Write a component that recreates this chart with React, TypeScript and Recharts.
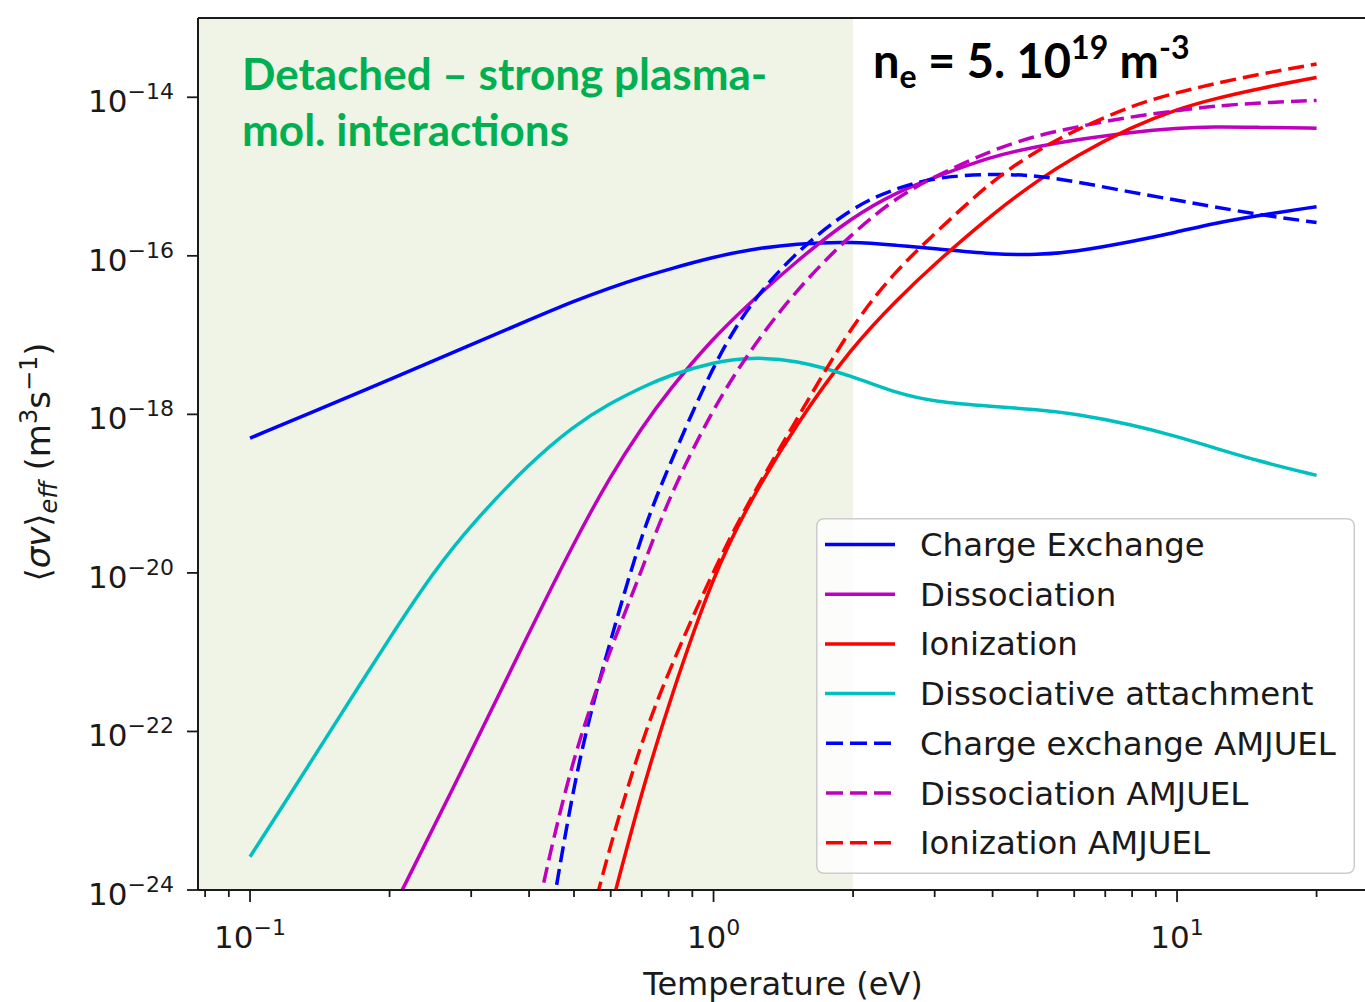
import React from 'react';
import { LineChart, Line, XAxis, YAxis, ReferenceArea, ReferenceLine, Legend } from 'recharts';

// ---- axis ranges & ticks ----
const X_MIN = 0.07722;
const X_MAX = 25.44;
const Y_MIN = 1e-24;
const Y_MAX = 1e-13;
const X_MAJOR = [0.1, 1, 10];
const X_MINOR = [0.08, 0.09, 0.2, 0.3, 0.4, 0.5, 0.6, 0.7, 0.8, 0.9, 2, 3, 4, 5, 6, 7, 8, 9, 20];
const Y_TICKS = [1e-24, 1e-22, 1e-20, 1e-18, 1e-16, 1e-14];
const DETACHED_MAX_T = 2;

// ---- series (T in eV, rate coefficient in m^3/s) ----
const CX_T = [0.1, 0.15, 0.2, 0.3, 0.4, 0.5, 0.6, 0.7, 0.8, 1.0, 1.2, 1.5, 2, 2.5, 3, 4, 5, 6, 8, 10, 12, 15, 20];
const CX_V = [5.01e-19, 1.349e-18, 2.754e-18, 7.59e-18, 1.549e-17, 2.69e-17, 3.98e-17, 5.37e-17, 6.76e-17, 9.66e-17, 1.202e-16, 1.429e-16, 1.514e-16, 1.349e-16, 1.23e-16, 1.047e-16, 1.023e-16, 1.122e-16, 1.514e-16, 1.995e-16, 2.57e-16, 3.236e-16, 4.17e-16];

const DIS_T = [0.2, 0.3, 0.4, 0.5, 0.6, 0.7, 0.8, 1.0, 1.2, 1.5, 2, 2.5, 3, 4, 5, 6, 8, 10, 12, 15, 20];
const DIS_V = [4.79e-25, 5.5e-23, 1.778e-21, 2.43e-20, 1.698e-19, 6.76e-19, 1.995e-18, 9.33e-18, 2.57e-17, 8.32e-17, 3.162e-16, 6.46e-16, 9.77e-16, 1.82e-15, 2.4e-15, 2.88e-15, 3.63e-15, 4.07e-15, 4.27e-15, 4.17e-15, 4.07e-15];

const ION_T = [0.6, 0.7, 0.8, 1.0, 1.2, 1.5, 2, 2.5, 3, 4, 5, 6, 8, 10, 12, 15, 20];
const ION_V = [5.75e-25, 1.738e-23, 2.239e-22, 9.77e-21, 8.13e-20, 7.24e-19, 7.41e-18, 2.88e-17, 7.94e-17, 3.39e-16, 8.91e-16, 1.778e-15, 4.27e-15, 7.08e-15, 9.55e-15, 1.288e-14, 1.778e-14];

const DA_T = [0.1, 0.12, 0.15, 0.2, 0.25, 0.3, 0.4, 0.5, 0.6, 0.7, 0.8, 1.0, 1.2, 1.5, 2, 2.5, 3, 4, 5, 6, 8, 10, 12, 15, 20];
const DA_V = [2.63e-24, 1.371e-23, 1.072e-22, 1.514e-21, 1.072e-20, 4.07e-20, 2.4e-19, 7.24e-19, 1.396e-18, 2.19e-18, 3.09e-18, 4.57e-18, 5.25e-18, 4.9e-18, 3.02e-18, 1.82e-18, 1.445e-18, 1.259e-18, 1.148e-18, 1.023e-18, 7.41e-19, 5.25e-19, 3.8e-19, 2.57e-19, 1.698e-19];

const CXA_T = [0.45, 0.5, 0.55, 0.6, 0.7, 0.8, 1.0, 1.2, 1.5, 2, 2.5, 3, 4, 5, 6, 8, 10, 12, 15, 20];
const CXA_V = [6.03e-25, 2.239e-23, 2.344e-22, 1.413e-21, 3.236e-20, 2.188e-19, 4.365e-18, 2.57e-17, 1.096e-16, 4.27e-16, 7.24e-16, 9.77e-16, 1.096e-15, 1.023e-15, 8.71e-16, 6.31e-16, 5.01e-16, 4.17e-16, 3.31e-16, 2.63e-16];

const DISA_T = [0.42, 0.45, 0.5, 0.55, 0.6, 0.7, 0.8, 1.0, 1.2, 1.5, 2, 2.5, 3, 4, 5, 6, 8, 10, 12, 15, 20];
const DISA_V = [6.46e-25, 4.17e-24, 4.79e-23, 2.57e-22, 1.122e-21, 1.072e-20, 8.91e-20, 1.23e-18, 6.46e-18, 3.63e-17, 1.995e-16, 5.62e-16, 1.0e-15, 2.188e-15, 3.31e-15, 4.17e-15, 5.75e-15, 6.76e-15, 7.76e-15, 8.51e-15, 9.12e-15];

const IONA_T = [0.56, 0.6, 0.7, 0.8, 1.0, 1.2, 1.5, 2, 2.5, 3, 4, 5, 6, 8, 10, 12, 15, 20];
const IONA_V = [8.13e-25, 3.8e-24, 7.76e-23, 5.75e-22, 1.096e-20, 8.71e-20, 7.94e-19, 1.445e-17, 6.92e-17, 1.905e-16, 9.12e-16, 2.138e-15, 3.8e-15, 7.94e-15, 1.148e-14, 1.479e-14, 1.95e-14, 2.63e-14];

const SERIES_NAMES = [
  'Charge Exchange',
  'Dissociation',
  'Ionization',
  'Dissociative attachment',
  'Charge exchange AMJUEL',
  'Dissociation AMJUEL',
  'Ionization AMJUEL',
];

const BLUE = '#0000FF';
const MAGENTA = '#BF00BF';
const RED = '#FF0000';
const CYAN = '#00BFBF';

const toData = (ts: number[], vs: number[]) => ts.map((t, i) => ({ T: t, v: vs[i] }));

const SERIES = [
  { name: SERIES_NAMES[0], color: BLUE, dashed: false, data: toData(CX_T, CX_V) },
  { name: SERIES_NAMES[1], color: MAGENTA, dashed: false, data: toData(DIS_T, DIS_V) },
  { name: SERIES_NAMES[2], color: RED, dashed: false, data: toData(ION_T, ION_V) },
  { name: SERIES_NAMES[3], color: CYAN, dashed: false, data: toData(DA_T, DA_V) },
  { name: SERIES_NAMES[4], color: BLUE, dashed: true, data: toData(CXA_T, CXA_V) },
  { name: SERIES_NAMES[5], color: MAGENTA, dashed: true, data: toData(DISA_T, DISA_V) },
  { name: SERIES_NAMES[6], color: RED, dashed: true, data: toData(IONA_T, IONA_V) },
];

const AXIS_COLOR = '#1a1a1a';
const FONT = '"DejaVu Sans", sans-serif';
const DASH = '16 7';
const LW = 3.5;

const expLabel = (e: number) => (e < 0 ? '\u2212' + String(-e) : String(e));

const XTick = (props: any) => {
  const { x, y, payload } = props;
  const lv = Math.log10(payload.value);
  const e = Math.round(lv);
  const major = Math.abs(lv - e) < 1e-6;
  return (
    <g>
      <line x1={x} x2={x} y1={y} y2={y + (major ? 12 : 7)} stroke={AXIS_COLOR} strokeWidth={1.8} />
      {major && (
        <text x={x} y={y + 58} textAnchor="middle" fontFamily={FONT} fontSize={31} fill={AXIS_COLOR}>
          10<tspan fontSize={22} dy={-13}>{expLabel(e)}</tspan>
        </text>
      )}
    </g>
  );
};

const YTick = (props: any) => {
  const { x, y, payload } = props;
  const e = Math.round(Math.log10(payload.value));
  return (
    <g>
      <line x1={x - 11} x2={x} y1={y} y2={y} stroke={AXIS_COLOR} strokeWidth={1.8} />
      <text x={x - 24} y={y + 15} textAnchor="end" fontFamily={FONT} fontSize={31} fill={AXIS_COLOR}>
        10<tspan fontSize={22} dy={-13}>{expLabel(e)}</tspan>
      </text>
    </g>
  );
};

const LEG_W = 539;
const LEG_H = 356;
const LEG_ROW0 = 26.5;
const LEG_STEP = 49.7;

const LegendBox = () => (
  <svg width={LEG_W} height={LEG_H} style={{ display: 'block', overflow: 'visible' }}>
    <rect x={0.75} y={0.75} width={LEG_W - 1.5} height={LEG_H - 1.5} rx={7} ry={7}
      fill="#ffffff" fillOpacity={0.8} stroke="#cccccc" strokeWidth={1.5} />
    {SERIES.map((s, i) => {
      const cy = LEG_ROW0 + i * LEG_STEP;
      return (
        <g key={s.name}>
          <line x1={s.dashed ? 10 : 9} x2={s.dashed ? 78 : 79} y1={cy} y2={cy} stroke={s.color}
            strokeWidth={LW} strokeDasharray={s.dashed ? '17 7' : undefined} />
          <text x={104} y={cy + 11.5} fontFamily={FONT} fontSize={32.4} fill={AXIS_COLOR}>{s.name}</text>
        </g>
      );
    })}
  </svg>
);

export default function App() {
  return (
    <div style={{ position: 'absolute', left: 0, top: 0, width: 1365, height: 1002, background: '#ffffff', overflow: 'hidden' }}>
      <LineChart width={1365} height={1002} margin={{ top: 18, right: 0, left: 0, bottom: 0 }}>
        <XAxis
          xAxisId={0}
          type="number"
          dataKey="T"
          scale="log"
          domain={[X_MIN, X_MAX]}
          allowDataOverflow
          ticks={[...X_MAJOR, ...X_MINOR].sort((a, b) => a - b)}
          interval={0}
          height={112}
          tickSize={0}
          tickMargin={0}
          tickLine={false}
          axisLine={{ stroke: AXIS_COLOR, strokeWidth: 2 }}
          tick={<XTick />}
        />
        <YAxis
          yAxisId={0}
          type="number"
          scale="log"
          domain={[Y_MIN, Y_MAX]}
          allowDataOverflow
          ticks={Y_TICKS}
          interval={0}
          width={198}
          tickSize={0}
          tickMargin={0}
          tickLine={false}
          axisLine={{ stroke: AXIS_COLOR, strokeWidth: 2 }}
          tick={<YTick />}
        />
        <ReferenceArea x1={X_MIN} x2={DETACHED_MAX_T} y1={Y_MIN} y2={Y_MAX} fill="#F0F4E6" fillOpacity={1} stroke="none" ifOverflow="hidden" />
        <ReferenceLine y={Y_MAX} stroke={AXIS_COLOR} strokeWidth={2} />
        {SERIES.map((s) => (
          <Line
            key={s.name}
            data={s.data}
            dataKey="v"
            name={s.name}
            type="basis"
            stroke={s.color}
            strokeWidth={LW}
            strokeDasharray={s.dashed ? DASH : undefined}
            dot={false}
            activeDot={false}
            isAnimationActive={false}
          />
        ))}
        <Legend
          layout="horizontal"
          verticalAlign="middle"
          align="center"
          content={() => <LegendBox />}
          wrapperStyle={{ left: 816, top: 518, width: LEG_W, height: LEG_H }}
        />
      </LineChart>
      <svg width={1365} height={1002} style={{ position: 'absolute', left: 0, top: 0, pointerEvents: 'none' }}>
        <text x={242} y={90} fontFamily="Lato, sans-serif" fontWeight={700} fontSize={44} fill="#00B050">Detached – strong plasma-</text>
        <text x={242} y={146} fontFamily="Lato, sans-serif" fontWeight={700} fontSize={44} fill="#00B050">mol. interactions</text>
        <text x={873} y={78} fontFamily="Lato, sans-serif" fontWeight={700} fontSize={47} fill="#000000">
          n<tspan fontSize={32} dy={10}>e</tspan>
          <tspan dy={-10}> = 5. 10</tspan>
          <tspan fontSize={32} dy={-19}>19</tspan>
          <tspan dy={19}> m</tspan>
          <tspan fontSize={32} dy={-19}>-3</tspan>
        </text>
        <text x={783} y={995} textAnchor="middle" fontFamily={FONT} fontSize={32} fill={AXIS_COLOR}>Temperature (eV)</text>
        <text x={50} y={462} transform="rotate(-90, 50, 462)" textAnchor="middle" fontFamily={FONT} fontSize={34} fill={AXIS_COLOR}>
          ⟨<tspan fontStyle="italic">σv</tspan>⟩<tspan fontSize={24} dy={7} fontStyle="italic">eff</tspan>
          <tspan dy={-7}> (m</tspan>
          <tspan fontSize={24} dy={-13}>3</tspan>
          <tspan dy={13}>s</tspan>
          <tspan fontSize={24} dy={-13}>−1</tspan>
          <tspan dy={13}>)</tspan>
        </text>
      </svg>
    </div>
  );
}
